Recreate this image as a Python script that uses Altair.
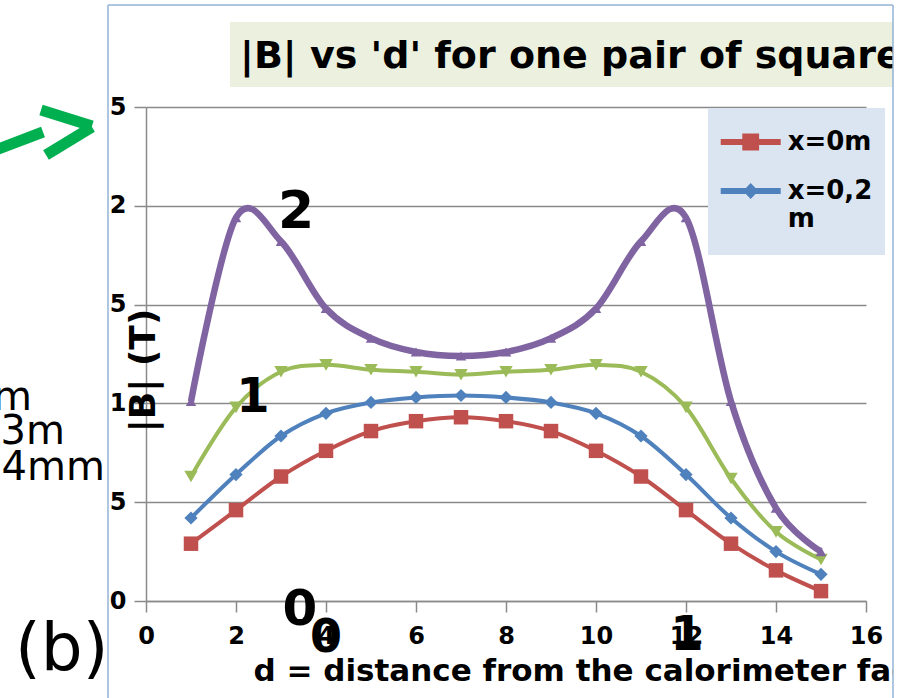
import altair as alt
import pandas as pd

# ---------------- data ----------------
d_values = list(range(1, 16))
series_names = ["x=0m", "x=0,2 m", "x=0,3 m", "x=0,4 m"]
b_x0 = [0.29, 0.46, 0.63, 0.76, 0.86, 0.91, 0.93, 0.91, 0.86, 0.76, 0.63, 0.46, 0.29, 0.155, 0.05]
b_x02 = [0.42, 0.64, 0.835, 0.95, 1.005, 1.03, 1.04, 1.03, 1.005, 0.95, 0.835, 0.64, 0.42, 0.25, 0.135]
b_x03 = [0.63, 0.98, 1.16, 1.195, 1.17, 1.16, 1.145, 1.16, 1.17, 1.195, 1.16, 0.98, 0.62, 0.35, 0.21]
b_x04 = [1.01, 1.94, 1.82, 1.48, 1.33, 1.26, 1.24, 1.26, 1.33, 1.48, 1.82, 1.94, 1.01, 0.47, 0.25]
series_values = [b_x0, b_x02, b_x03, b_x04]
x_ticks = list(range(0, 17, 2))
y_ticks = [0, 0.5, 1, 1.5, 2, 2.5]

colors = ["#c0504d", "#4f81bd", "#9bbb59", "#8064a2"]
shapes = ["square", "diamond", "triangle-down", "triangle-up"]
marker_sizes = [210, 175, 180, 110]
line_widths = [4, 4, 4, 6.5]

rows = []
for name, vals in zip(series_names, series_values):
    for d, b in zip(d_values, vals):
        rows.append({"d": d, "B": b, "series": name})
df = pd.DataFrame(rows)

FONT = "DejaVu Sans"
GRAY = "#8a8a8a"

x_enc = alt.X(
    "d:Q",
    scale=alt.Scale(domain=[0, 16], nice=False, zero=False),
    axis=alt.Axis(
        values=x_ticks, grid=False, format="d", labelFlush=False, labelOverlap=False,
        labelFont=FONT, labelFontWeight="bold", labelFontSize=24, labelColor="black",
        labelPadding=12, tickSize=11, tickColor=GRAY, tickWidth=1.5,
        domainColor=GRAY, domainWidth=1.5,
        title="d = distance from the calorimeter face (cm)",
        titleFont=FONT, titleFontWeight="bold", titleFontSize=31, titleColor="black",
        titleX=107, titleY=79, titleAlign="left", titleBaseline="alphabetic", titleAngle=0,
    ),
)
y_enc = alt.Y(
    "B:Q",
    scale=alt.Scale(domain=[0, 2.5], nice=False),
    axis=alt.Axis(
        values=y_ticks, labelFlush=False, labelOverlap=False,
        labelExpr="datum.value == floor(datum.value) ? format(datum.value, 'd') : replace(format(datum.value, '.1f'), '.', ',')",
        labelFont=FONT, labelFontWeight="bold", labelFontSize=24, labelColor="black",
        labelPadding=8, tickSize=12, tickColor=GRAY, tickWidth=1.5,
        domainColor=GRAY, domainWidth=1.5,
        grid=True, gridColor=GRAY, gridWidth=1.5,
        title="|B| (T)",
        titleFont=FONT, titleFontWeight="bold", titleFontSize=36, titleColor="black",
        titleAngle=270, titleX=8.5, titleY=263, titleAlign="center", titleBaseline="alphabetic",
    ),
)

line_layers = []
for i, name in enumerate(series_names):
    enc_x = x_enc if i == 0 else alt.X("d:Q")
    enc_y = y_enc if i == 0 else alt.Y("B:Q")
    line_layers.append(
        alt.Chart(df).transform_filter(alt.datum.series == name)
        .mark_line(interpolate="cardinal", color=colors[i], strokeWidth=line_widths[i])
        .encode(x=enc_x, y=enc_y, order=alt.Order("d:Q"))
    )

point_layers = []
for i, name in enumerate(series_names):
    point_layers.append(
        alt.Chart(df).transform_filter(alt.datum.series == name)
        .mark_point(filled=True, opacity=1, color=colors[i], shape=shapes[i], size=marker_sizes[i])
        .encode(x="d:Q", y="B:Q")
    )

# legend (only the two visible entries)
leg_names = series_names[:2]
leg_paths = [
    "M-1.25,-0.12H1.25V0.12H-1.25Z M-0.35,-0.35H0.35V0.35H-0.35Z",
    "M-1.25,-0.12H1.25V0.12H-1.25Z M0,-0.33L0.32,0L0,0.33L-0.32,0Z",
]
leg = alt.Legend(
    title=None, orient="none", legendX=580.7, legendY=11, padding=0,
    symbolSize=2304, symbolStrokeWidth=0, symbolOpacity=1,
    labelFont=FONT, labelFontWeight="bold", labelFontSize=26, labelColor="black",
    labelOffset=13, rowPadding=12, labelLimit=300, labelBaseline="middle",
    labelExpr="datum.label == 'x=0,2 m' ? ['x=0,2', 'm'] : datum.label",
)
legend_layer = alt.Chart(df[df.series.isin(leg_names)]).mark_point(filled=True, opacity=0).encode(
    x="d:Q", y="B:Q",
    color=alt.Color("series:N", scale=alt.Scale(domain=leg_names, range=colors[:2]), legend=leg),
    shape=alt.Shape("series:N", scale=alt.Scale(domain=leg_names, range=leg_paths), legend=leg),
)

one = pd.DataFrame({"k": [0]})


def rect(x, x2, y, y2, color):
    return alt.Chart(one).mark_rect(color=color).encode(
        x=alt.value(x), x2=alt.value(x2), y=alt.value(y), y2=alt.value(y2))


def text(t, x, y, size, weight="bold", align="center"):
    return alt.Chart(one).mark_text(
        text=t, font=FONT, fontSize=size, fontWeight=weight, align=align,
        baseline="alphabetic", color="black").encode(x=alt.value(x), y=alt.value(y))


def rule(x, y, x2, y2, color, width):
    return alt.Chart(one).mark_rule(color=color, strokeWidth=width).encode(
        x=alt.value(x), y=alt.value(y), x2=alt.value(x2), y2=alt.value(y2))


legend_box = rect(562, 739, 1, 148, "#dbe5f1")
title_box = rect(84, 762, -85, -20, "#ebf1de")
title_text = text("|B| vs 'd' for one pair of square coils", 94, -39, 38, align="left")

overlays = [
    text("2", 150, 121, 52),
    text("1", 107, 305, 48),
    text("0", 154, 518, 50),
    text("0", 180, 545, 46),
    text("1", 541, 543, 48),
]

right_cover = rect(747, 770, -110, 600, "white")
left_cover = rect(-150, -38, -110, 600, "white")

left_texts = [
    text("m", -114, 303, 40, weight="normal", align="right"),
    text("3m", -81, 337, 40, weight="normal", align="right"),
    text("4mm", -41, 373, 40, weight="normal", align="right"),
    text("(b)", -131, 563, 66, weight="normal", align="left"),
]

ARROW = "#00b050"
arrow = [
    rule(-150, 43, -103, 25, ARROW, 11),
    rule(-105, 3, -54, 19, ARROW, 11),
    rule(-54, 20, -100, 48, ARROW, 11),
]

FRAME = "#95b3d7"
frame = [
    rule(-38, -102, -38, 600, FRAME, 1.5),
    rule(-38, -102, 747, -102, FRAME, 1.5),
    rule(747, -102, 747, 600, FRAME, 1.5),
]

chart = alt.layer(
    legend_box, *line_layers, *point_layers, legend_layer, title_box, title_text, *overlays,
    right_cover, left_cover, *left_texts, *arrow, *frame,
).resolve_scale(
    color="independent", shape="independent",
).properties(
    width=720, height=494,
    autosize=alt.AutoSizeParams(type="none"),
    padding={"left": 146, "top": 107, "right": 42, "bottom": 97},
    background="white",
).configure_view(stroke=None)

chart.save("out.html", embed_options={"renderer": "svg", "actions": False})
